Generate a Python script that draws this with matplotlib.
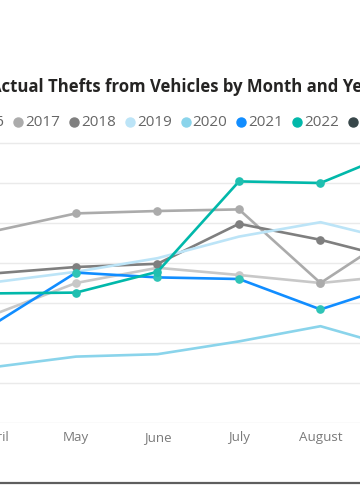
import numpy as np
import matplotlib
matplotlib.use("Agg")
from matplotlib import pyplot as plt
from matplotlib.lines import Line2D

plt.rcParams['font.family'] = ['Open Sans', 'DejaVu Sans']

months = ["April", "May", "June", "July", "August", "September"]
years = ["2016", "2017", "2018", "2019", "2020", "2021", "2022", "2023"]

thefts_2016 = [136, 175, 194, 185, 175, 185]
thefts_2017 = [240, 262, 265, 267, 175, 242]
thefts_2018 = [187, 195, 199, 249, 229, 203]
thefts_2019 = [176, 189, 206, 233, 251, 226]
thefts_2020 = [70, 83, 86, 102, 121, 92]
thefts_2021 = [124, 188, 182, 180, 142, 175]
thefts_2022 = [162, 163, 189, 302, 300, 342]
thefts_2023 = [np.nan] * 6

series = [thefts_2016, thefts_2017, thefts_2018, thefts_2019,
          thefts_2020, thefts_2021, thefts_2022, thefts_2023]
line_colors = ["#C8C8C8", "#ABABAB", "#7F7F7F", "#BCE4F7",
               "#8AD4EB", "#118DFF", "#01B8AA", "#374649"]
marker_colors = ["#C8C8C8", "#ABABAB", "#7F7F7F", None,
                 None, "#2EC4B6", "#1FBFB0", "#374649"]

W, H = 360, 504
fig = plt.figure(figsize=(W / 100, H / 100), dpi=100)

# axes wider than the figure so the chart looks cropped like the reference
px_left, px_right = -100, 460
y0_px, top_px = 423, 135
ax = fig.add_axes([px_left / W, (H - y0_px) / H,
                   (px_right - px_left) / W, (y0_px - top_px) / H])
x = np.arange(len(months))
step = 81.5
first = -5.5
ax.set_xlim((px_left - first) / step, (px_right - first) / step)
ax.set_ylim(0, 360)

for vals, lc, mc in zip(series, line_colors, marker_colors):
    if mc is None:
        ax.plot(x, vals, color=lc, lw=1.9, solid_capstyle="round")
    else:
        ax.plot(x, vals, color=lc, lw=1.9, marker="o", ms=5.2,
                mfc=mc, mec=mc, solid_capstyle="round")

ax.set_yticks(np.arange(0, 351, 50))
ax.yaxis.grid(True, color="#EAEAEA", lw=1)
ax.set_axisbelow(True)
ax.tick_params(axis="y", left=False, labelleft=False)
ax.set_xticks(x)
ax.set_xticklabels(months, color="#7A7A7A", fontsize=9.6)
ax.tick_params(axis="x", length=0, pad=6)
for s in ax.spines.values():
    s.set_visible(False)

# title (cut at both edges, like the cropped reference)
fig.text(-10 / W, 1 - 87 / H, "Actual Thefts from Vehicles by Month and Year",
         fontsize=12.1, fontweight="bold", color="#252423",
         ha="left", va="center")

# legend row
leg_y = 1 - 122 / H
first_marker = 18.3 - 55.8
for i, (yr, mc) in enumerate(zip(years, line_colors)):
    mx = first_marker + 55.8 * i
    fig.add_artist(Line2D([mx / W], [leg_y], marker="o", ms=6.5, color=mc,
                          mec=mc, transform=fig.transFigure, ls=""))
    fig.text((mx + 7) / W, leg_y, yr, fontsize=11, color="#666666",
             ha="left", va="center")

# bottom border of the visual
fig.add_artist(Line2D([0, 1], [1 - 483 / H] * 2, color="#5E5E5E", lw=1.6,
                      transform=fig.transFigure))

fig.savefig("out.png", dpi=100)
